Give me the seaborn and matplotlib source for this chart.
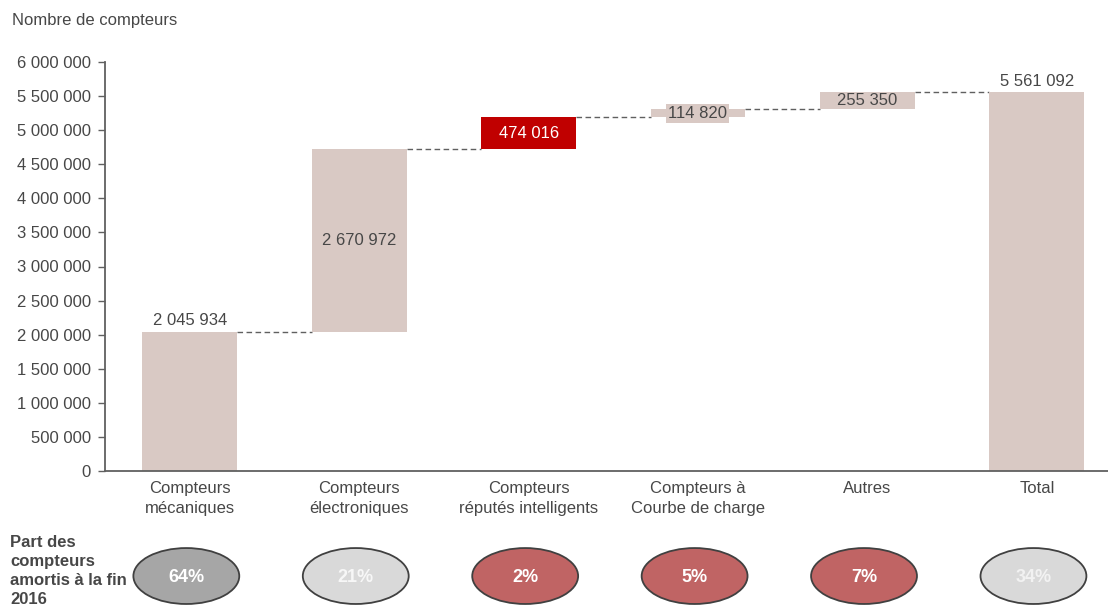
import matplotlib
matplotlib.use("Agg")
import matplotlib.pyplot as plt
import seaborn as sns
from matplotlib.patches import Ellipse

# ---- data ----
categories = ["Compteurs\nmécaniques", "Compteurs\nélectroniques", "Compteurs\nréputés intelligents",
              "Compteurs à\nCourbe de charge", "Autres", "Total"]
values = [2045934, 2670972, 474016, 114820, 255350, 5561092]
is_total = [False, False, False, False, False, True]
value_labels = ["2 045 934", "2 670 972", "474 016", "114 820", "255 350", "5 561 092"]
shares = ["64%", "21%", "2%", "5%", "7%", "34%"]
yticks = [0, 500000, 1000000, 1500000, 2000000, 2500000, 3000000, 3500000, 4000000,
          4500000, 5000000, 5500000, 6000000]

# ---- styles ----
bar_colors = ["#d9c9c4", "#d9c9c4", "#c00000", "#d9c9c4", "#d9c9c4", "#d9c9c4"]
ell_colors = ["#a6a6a6", "#d9d9d9", "#c06464", "#c06464", "#c06464", "#d9d9d9"]
ell_text_colors = ["white", "#f7f7f7", "white", "white", "white", "#f2f2f2"]
txt = "#474747"
FS = 12

sns.set_theme(style="white")
plt.rcParams["font.family"] = ["Liberation Sans", "DejaVu Sans"]

fig = plt.figure(figsize=(11.08, 6.08), dpi=100)
ax = fig.add_axes([105 / 1108, (608 - 471) / 608, 1 - 105 / 1108, (471 - 62) / 608])

# bottoms of waterfall bars
bottoms = []
run = 0
for v, t in zip(values, is_total):
    if t:
        bottoms.append(0)
    else:
        bottoms.append(run)
        run += v
tops = [b + v for b, v in zip(bottoms, values)]

sns.barplot(x=categories, y=values, hue=categories, palette=bar_colors, legend=False,
            width=0.56, saturation=1, ax=ax, zorder=2)
for p, b in zip(ax.patches, bottoms):
    p.set_y(b)
    p.set_edgecolor("none")

ax.set_xlim(-0.5, 5.42)
ax.set_ylim(0, 6000000)
ax.set_yticks(yticks)
ax.set_yticklabels([f"{v:,}".replace(",", " ") for v in yticks])
ax.tick_params(axis="y", length=5, width=1, color="#606060", labelsize=FS, labelcolor=txt, pad=5, left=True)
ax.tick_params(axis="x", length=0, labelsize=FS, labelcolor=txt, pad=7)
for lbl in ax.get_xticklabels():
    lbl.set_linespacing(1.4)
for s in ["top", "right"]:
    ax.spines[s].set_visible(False)
for s in ["left", "bottom"]:
    ax.spines[s].set_color("#606060")
    ax.spines[s].set_linewidth(1.3)
ax.set_xlabel("")
ax.set_ylabel("")

# connectors
hw = 0.28
for i in range(len(values) - 1):
    level = tops[i]
    ax.plot([i + hw, i + 1 - hw], [level, level], ls=(0, (4, 2.5)), color="#606060", lw=1, zorder=1)

# value labels
for i, (lab, b, t) in enumerate(zip(value_labels, bottoms, tops)):
    if i == 0 or is_total[i]:
        ax.text(i, t + 50000, lab, ha="center", va="bottom", fontsize=FS, color=txt)
    elif i == 2:
        ax.text(i, (b + t) / 2, lab, ha="center", va="center", fontsize=FS, color="white", zorder=3)
    elif i == 3:
        ax.text(i, (b + t) / 2, lab, ha="center", va="center", fontsize=FS, color=txt, zorder=3,
                bbox=dict(boxstyle="square,pad=0.12", fc=bar_colors[i], ec="none"))
    else:
        ax.text(i, (b + t) / 2, lab, ha="center", va="center", fontsize=FS, color=txt, zorder=3)

fig.text(12 / 1108, 1 - 20 / 608, "Nombre de compteurs", ha="left", va="center", fontsize=FS, color=txt)

# ellipse row
ax2 = fig.add_axes([105 / 1108, 0, 1 - 105 / 1108, 60.8 / 608])
ax2.set_xlim(-0.5, 5.42)
ax2.set_ylim(0, 1)
ax2.axis("off")
for i, (s, c, tc) in enumerate(zip(shares, ell_colors, ell_text_colors)):
    e = Ellipse((i - 0.02, 0.526), width=0.625, height=0.92, facecolor=c, edgecolor="#404040", lw=1.3, clip_on=False)
    ax2.add_patch(e)
    ax2.text(i - 0.02, 0.50, s, ha="center", va="center", fontsize=13, fontweight="bold", color=tc,
             family=["Liberation Sans Narrow", "Liberation Sans", "DejaVu Sans"])

fig.text(10 / 1108, 1 - 571 / 608, "Part des\ncompteurs\namortis à la fin\n2016", ha="left", va="center",
         fontsize=FS, fontweight="bold", color=txt, linespacing=1.35)

fig.savefig("out.png", dpi=100)
